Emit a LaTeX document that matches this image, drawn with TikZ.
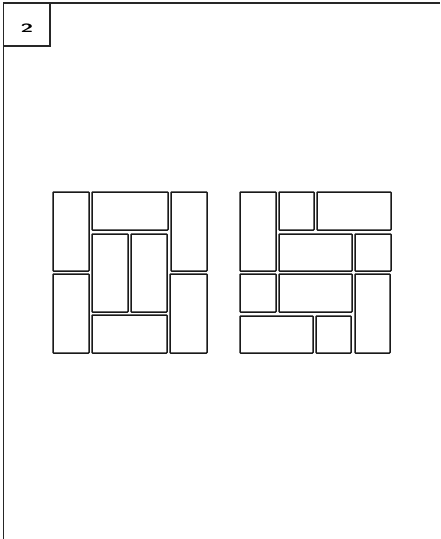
\documentclass[tikz,border=0pt]{standalone}
\usepackage{graphicx}
\begin{document}
\begin{tikzpicture}[x=1pt,y=-1pt,
  tile/.style={draw=black!90,line width=1.5pt,rounded corners=0.6pt},
  frame/.style={draw=black!85,line width=1.2pt}]
\useasboundingbox[fill=white] (0,0) rectangle (440,539);
% frame
\draw[frame] (3.5,539) -- (3.5,3) -- (440,3);
\draw[frame] (3.5,46) -- (50,46) -- (50,3);
\node[inner sep=0pt] (lbl) at (27,28.5) {\scalebox{2.3}[1.2]{\sffamily\bfseries 2}};
% left pattern
\draw[tile] (53,192) rectangle (89,271);
\draw[tile] (92,192) rectangle (168,230);
\draw[tile] (171,192) rectangle (207,271);
\draw[tile] (92,234) rectangle (128,312);
\draw[tile] (131,234) rectangle (167,312);
\draw[tile] (53,274) rectangle (89,353);
\draw[tile] (92,315) rectangle (167,353);
\draw[tile] (170,274) rectangle (207,353);
% right pattern
\draw[tile] (240,192) rectangle (276,271);
\draw[tile] (279,192) rectangle (314,230);
\draw[tile] (317,192) rectangle (391,230);
\draw[tile] (279,234) rectangle (352,271);
\draw[tile] (355,234) rectangle (391,271);
\draw[tile] (240,274) rectangle (276,312);
\draw[tile] (279,274) rectangle (352,312);
\draw[tile] (355,274) rectangle (390,353);
\draw[tile] (240,316) rectangle (313,353);
\draw[tile] (316,316) rectangle (351,353);
\end{tikzpicture}
\end{document}
